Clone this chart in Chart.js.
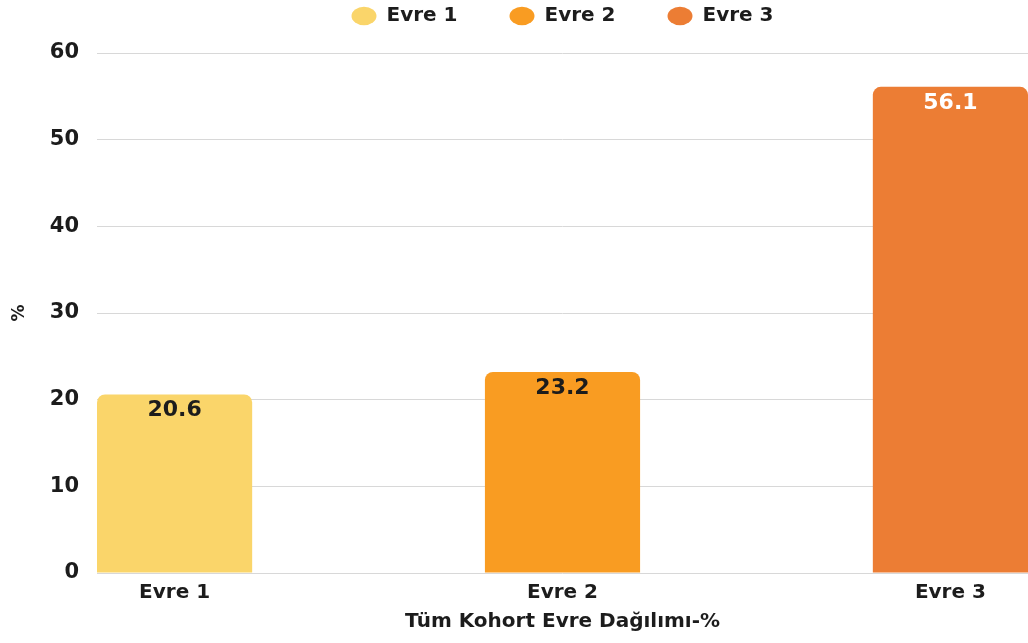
<!DOCTYPE html>
<html>
<head>
<meta charset="utf-8">
<script src="https://cdn.jsdelivr.net/npm/chart.js@4.4.1/dist/chart.umd.min.js"></script>
<style>
  html, body { margin: 0; padding: 0; background: #fff; }
  #wrap { width: 1028px; height: 643px; }
</style>
</head>
<body>
<div id="wrap"><canvas id="barChart"></canvas></div>
<script>
const STAGE_LABELS = ['Evre 1', 'Evre 2', 'Evre 3'];
const STAGE_VALUES = [20.6, 23.2, 56.1];
const STAGE_COLORS = ['#FAD56A', '#F99C22', '#EC7D34'];
const VALUE_TEXT_COLORS = ['#1c1c1c', '#1c1c1c', '#ffffff'];
const Y_TICKS_MAX = 60;
const Y_STEP = 10;

const TEXT_COLOR = '#1c1c1c';
const GRID_COLOR = '#d8d8d8';

Chart.defaults.font.family = "'DejaVu Sans', sans-serif";
Chart.defaults.font.weight = 'bold';
Chart.defaults.color = TEXT_COLOR;

// one dataset per stage so the legend shows all three
const datasets = STAGE_LABELS.map((label, i) => ({
    label: label,
    data: [{ x: i, y: STAGE_VALUES[i] }],
    backgroundColor: STAGE_COLORS[i],
    borderRadius: 8,
    grouped: false,
    categoryPercentage: 1,
    barPercentage: 0.4
}));

// push chart area below the legend
const legendGap = {
    id: 'legendGap',
    beforeInit(chart) {
        const origFit = chart.legend.fit;
        chart.legend.fit = function () {
            origFit.bind(chart.legend)();
            this.height = 99;
        };
    }
};

// value labels inside the top of each bar
const barValues = {
    id: 'barValues',
    afterDatasetsDraw(chart) {
        const ctx = chart.ctx;
        ctx.save();
        ctx.font = "bold 22px 'DejaVu Sans', sans-serif";
        ctx.textAlign = 'center';
        ctx.textBaseline = 'middle';
        chart.data.datasets.forEach((ds, i) => {
            const meta = chart.getDatasetMeta(i);
            if (meta.hidden) return;
            meta.data.forEach((bar, j) => {
                ctx.fillStyle = VALUE_TEXT_COLORS[i];
                ctx.fillText(ds.data[j].y.toFixed(1), bar.x, bar.y + 16);
            });
        });
        ctx.restore();
    }
};

const ctxBar = document.getElementById('barChart');
new Chart(ctxBar, {
    type: 'bar',
    data: { datasets: datasets },
    options: {
        responsive: true,
        maintainAspectRatio: false,
        animation: false,
        layout: { padding: { top: -46, left: 0, right: 0, bottom: 0 } },
        scales: {
            x: {
                type: 'linear',
                offset: false,
                min: -0.2,
                max: STAGE_LABELS.length - 0.8,
                afterBuildTicks: axis => {
                    axis.ticks = STAGE_LABELS.map((l, i) => ({ value: i }));
                },
                afterFit: axis => { axis.height = 70; },
                grid: { display: false, drawTicks: false, offset: false },
                border: { display: false },
                ticks: {
                    padding: 8,
                    font: { size: 20, weight: 'bold' },
                    callback: value => STAGE_LABELS[value]
                },
                title: {
                    display: true,
                    text: 'Tüm Kohort Evre Dağılımı-%',
                    font: { size: 20, weight: 'bold' },
                    padding: { top: 0, bottom: 9 }
                }
            },
            y: {
                min: 0,
                max: Y_TICKS_MAX,
                afterFit: axis => { axis.width = 97; },
                grid: { color: GRID_COLOR, drawTicks: false },
                border: { display: false },
                ticks: {
                    stepSize: Y_STEP,
                    padding: 18,
                    font: { size: 21, weight: 'bold' }
                },
                title: {
                    display: true,
                    text: '%',
                    font: { size: 17, weight: 'bold' },
                    padding: { top: 9, bottom: 0 }
                }
            }
        },
        plugins: {
            legend: {
                position: 'top',
                fullSize: false,
                labels: {
                    usePointStyle: true,
                    pointStyle: 'circle',
                    pointStyleWidth: 25,
                    boxHeight: 13,
                    padding: 52,
                    color: TEXT_COLOR,
                    font: { size: 20, weight: 'bold' }
                }
            },
            tooltip: { enabled: false }
        }
    },
    plugins: [legendGap, barValues]
});
</script>
</body>
</html>
